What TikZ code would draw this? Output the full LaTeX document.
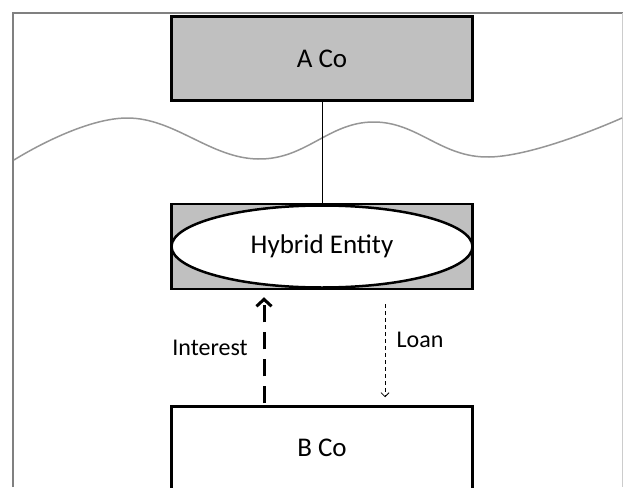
\documentclass[tikz,border=0pt]{standalone}
\usepackage{fontspec}
\setmainfont{Carlito}
\usetikzlibrary{positioning}
\usetikzlibrary{shapes.geometric}
\usetikzlibrary{arrows.meta}

\definecolor{boxgray}{RGB}{192,192,192}
\definecolor{framegray}{RGB}{128,128,128}
\definecolor{wavegray}{RGB}{150,150,150}

\begin{document}
\begin{tikzpicture}[x=1pt,y=-1pt,
  cobox/.style={draw=black,line width=2.5pt,minimum width=301pt,inner sep=0pt,
    font=\fontsize{27}{31}\selectfont},
  flowtext/.style={font=\fontsize{24}{28}\selectfont,inner sep=0pt},
  intarrow/.style={line width=3pt,dash pattern=on 17pt off 10pt,
    -{Straight Barb[length=7pt,width=15pt,line width=3pt]}},
  loanarrow/.style={line width=0.8pt,dash pattern=on 4pt off 3pt,
    -{Straight Barb[length=4pt,width=8pt,line width=0.8pt]}}]
 \useasboundingbox (0,0) rectangle (623,487);
 % frame and wave
 \draw[framegray,line width=2pt](13,487)--(13,13)--(623,13);
 \draw[framegray!40,line width=1pt](622,13)--(622,487);
 \draw[wavegray,line width=1.5pt] plot[smooth,tension=0.7] coordinates
   {(14,160) (127,118) (258,159) (373,122) (489,157) (622,118)};
 % entities
 \node[cobox,fill=boxgray,minimum height=84pt] (aco) at (322,58.5) {A Co};
 \node[cobox,fill=boxgray,minimum height=85pt] (hybrid) [below=101pt of aco] {};
 \node[draw=black,line width=2.5pt,fill=white,ellipse,minimum width=301pt,
   minimum height=82pt,inner sep=0pt,font=\fontsize{27}{31}\selectfont]
   (hybell) at (hybrid) {Hybrid Entity};
 \node[cobox,fill=white,minimum height=88pt] (bco) [below=115pt of hybrid] {};
 \node[font=\fontsize{27}{31}\selectfont] (bcotext) at ([yshift=-43pt]bco.north) {B Co};
 % connectors
 \draw[line width=1pt] (aco.south) -- (hybrid.north);
 \draw[intarrow,shorten <=2pt,shorten >=7pt] ([xshift=-58pt]bco.north) -- ([xshift=-58pt]hybrid.south);
 \draw[loanarrow,shorten <=14pt,shorten >=8pt] ([xshift=63pt]hybrid.south) -- ([xshift=63pt]bco.north);
 \node[flowtext] (interest) at (210,348) {Interest};
 \node[flowtext] (loan) at (420,340) {Loan};
\end{tikzpicture}
\end{document}
